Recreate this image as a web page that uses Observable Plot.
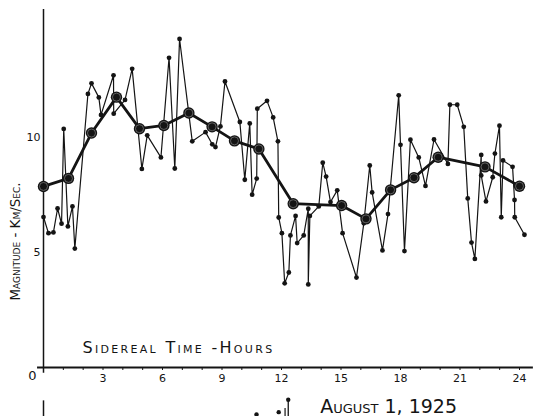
<!DOCTYPE html>
<html><head><meta charset="utf-8">
<script src="https://cdn.jsdelivr.net/npm/d3@7"></script>
<script src="https://cdn.jsdelivr.net/npm/@observablehq/plot@0.6"></script>
<style>body{margin:0;background:#fff}svg{display:block}</style>
</head><body><div id="chart"></div>
<script>
// Individual readings (thin line, small dots), in time order
const readingHours = [0.0,0.25,0.50,0.71,0.91,1.02,1.23,1.46,1.58,2.24,2.42,2.79,2.90,3.53,3.54,4.11,4.47,4.96,5.23,5.92,6.33,6.62,6.86,7.50,8.17,8.51,8.67,8.92,9.15,9.90,10.15,10.40,10.52,10.75,10.78,11.27,11.58,11.82,11.86,12.02,12.16,12.37,12.45,12.71,12.79,13.12,13.35,13.35,13.43,13.88,14.08,14.25,14.47,14.81,15.08,15.78,16.15,16.45,16.57,17.09,17.37,17.91,18.00,18.20,18.50,18.92,19.26,19.69,20.39,20.49,20.86,21.19,21.39,21.58,21.75,22.07,22.07,22.31,22.65,22.76,22.99,23.08,23.17,23.65,23.75,23.76,24.25];
const readingValues = [6.54,5.84,5.87,6.91,6.25,10.37,6.13,7.00,5.17,11.89,12.35,11.74,10.98,12.70,11.03,11.63,12.98,8.63,10.09,9.13,13.46,8.65,14.28,9.83,10.23,9.70,9.58,10.48,12.43,10.67,8.16,10.61,7.51,8.21,11.25,11.59,10.87,9.83,6.52,5.84,3.66,4.13,5.74,6.59,5.41,5.74,6.90,3.61,6.59,7.00,8.90,8.30,7.19,7.70,5.84,3.91,6.27,8.78,7.61,5.09,6.67,11.83,9.68,5.06,9.90,9.13,7.89,9.91,8.85,11.42,11.42,10.46,7.35,5.43,4.72,9.24,8.35,7.22,8.27,9.30,10.51,6.53,9.00,8.72,7.28,6.53,5.77];
// Mean values (heavy line, large circles)
const meanHours = [0,1.26,2.42,3.68,4.84,6.07,7.33,8.50,9.63,10.86,12.59,15.03,16.26,17.50,18.68,19.90,22.26,24.0];
const meanValues = [7.87,8.22,10.19,11.75,10.38,10.52,11.06,10.46,9.85,9.50,7.12,7.04,6.46,7.72,8.25,9.14,8.72,7.88];
// Tick labels
const xTickLabels = [3,6,9,12,15,18,21,24];
const yTickLabels = [5,10];
const hourTicks = [1,2,3,4,5,6,7,8,9,10,11,12,13,14,15,16,17,18,19,20,21,22,23,24];
// Fragment of the next chart visible at the bottom edge
const nextHours = [10.74,11.86,12.34];
const nextValues = [-2.04,-1.94,-1.40];

const readings = readingHours.map((h,i)=>({h, v: readingValues[i]}));
const means = meanHours.map((h,i)=>({h, v: meanValues[i]}));
const nextPts = nextHours.map((h,i)=>({h, v: nextValues[i]}));

const ink = "#141414";
const font = "DejaVu Sans";

const chart = Plot.plot({
  width: 533, height: 416,
  marginLeft: 43, marginRight: 14, marginTop: 9, marginBottom: 49,
  x: {domain: [0, 24], axis: null},
  y: {domain: [0, 15.56], axis: null},
  style: {background: "#fff", fontFamily: font, color: ink},
  marks: [
    Plot.ruleX([0], {y1: -0.25, y2: 15.56, stroke: ink, strokeWidth: 1.5}),
    Plot.ruleY([0], {x1: -0.3, x2: 24.7, stroke: ink, strokeWidth: 2}),
    Plot.ruleX(hourTicks, {y1: 0, y2: -0.13, stroke: ink, strokeWidth: 1}),
    Plot.ruleX([0], {y1: -1.45, y2: -2.3, stroke: ink, strokeWidth: 1.5}),
    Plot.ruleX([12.34], {y1: -1.40, y2: -2.3, stroke: ink, strokeWidth: 1.3}),
    Plot.ruleX([12.18], {y1: -1.78, y2: -2.3, stroke: ink, strokeWidth: 1.2}),
    Plot.dot(nextPts, {x: "h", y: "v", r: 2.2, fill: ink}),
    Plot.line(readings, {x: "h", y: "v", stroke: ink, strokeWidth: 1.2}),
    Plot.dot(readings, {x: "h", y: "v", r: 2.4, fill: ink}),
    Plot.line(means, {x: "h", y: "v", stroke: ink, strokeWidth: 2.8}),
    Plot.dot(means, {x: "h", y: "v", r: 5.7, fill: ink}),
    Plot.dot(means, {x: "h", y: "v", r: 4.0, fill: "none", stroke: "#aaa", strokeWidth: 0.5}),
    Plot.text(xTickLabels, {x: d => d, y: 0, dy: 11, text: d => String(d), fontSize: 11, fill: ink}),
    Plot.text(["0"], {x: 0, y: 0, dx: -11, dy: 8, fontSize: 13, fill: ink}),
    Plot.text(yTickLabels, {x: 0, y: d => d, dx: -3, textAnchor: "end", text: d => String(d), fontSize: 11, fill: ink}),
    Plot.text(["Sidereal Time -Hours"], {x: 1.97, y: 0.61, textAnchor: "start", lineAnchor: "bottom", fontSize: 16, fontVariant: "small-caps", fill: ink}),
    Plot.text(["Magnitude - Km/Sec."], {x: -1.41, y: 2.91, rotate: -90, textAnchor: "start", fontSize: 13.5, fontVariant: "small-caps", fill: ink}),
    Plot.text(["August 1, 1925"], {x: 17.4, y: -1.96, lineAnchor: "bottom", fontSize: 19, fontVariant: "small-caps", fill: ink})
  ]
});
document.getElementById("chart").appendChild(chart);
// widen the letter spacing of the x-axis title, as in the hand lettering
chart.querySelectorAll("text").forEach(t => {
  if (t.textContent === "Sidereal Time -Hours") t.setAttribute("letter-spacing", "2.3");
});
</script>
</body></html>
